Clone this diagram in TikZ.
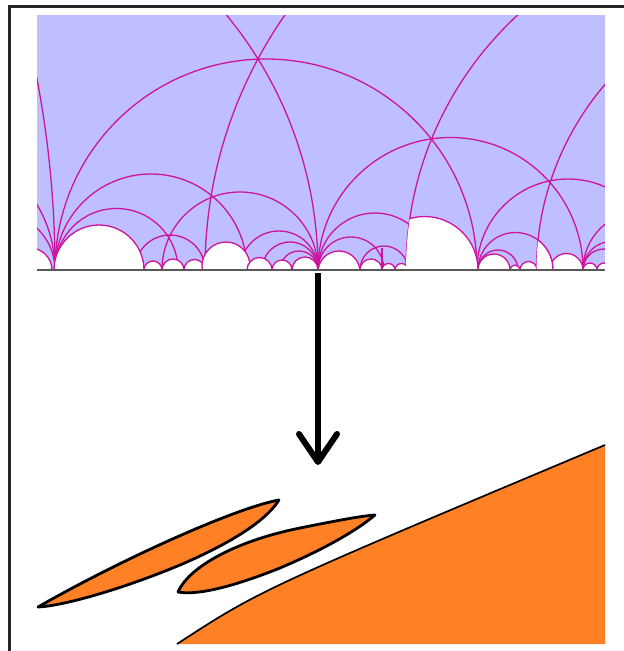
\documentclass[tikz,border=0pt]{standalone}
\usepackage{tikz}

\definecolor{halfplane}{RGB}{191,191,255}
\definecolor{geodesic}{RGB}{204,20,158}
\definecolor{blobfill}{RGB}{255,128,37}

\begin{document}
\begin{tikzpicture}[x=1pt, y=-1pt,
  geo/.style={draw=geodesic, line width=1.3pt},
  bump/.style={fill=white, draw=geodesic, line width=1.3pt},
  blob/.style={fill=blobfill, draw=black, line width=2.8pt, line join=round}]
  \useasboundingbox (0,0) rectangle (624,651);

  % Frame
  \draw[line width=2.8pt, black!85, line join=miter] (624,6.5) -- (9.6,6.5) -- (9.6,651);

  % Upper half plane
  \fill[halfplane] (37,15) rectangle (605,270);
  \begin{scope}
    \clip (37,15) rectangle (605,270);
    % Geodesics (semicircles on the boundary line)
    \foreach \c/\r in {-957/1012, -83/401, 651.5/446.5, 266/211, 450.5/132.5,
                       753/347, 822/285.5, 568/91, 151/96, 116.5/61.5, 240/78,
                       -2.5/57.5, -72.5/127.5, 170/35, 279/39, 290/28, 299/19,
                       375/57, 351/33, 384/24, 515.5/37.5, 498/20,
                       611.5/28.5, 641.5/58.5, 604/21}
      \draw[geo] (\c,270) circle[radius=\r];
    \draw[geo] (382,248) -- (382,270);
    % Bumps along the boundary
    \foreach \c/\h/\r in {30/270/22, 99/270/45, 153/270/9, 173/270/11,
                          194.5/270/10.5, 226/266/24, 259.5/270/12.5, 282/270/10,
                          305/270/13, 339/272/21, 371/270/11, 388.5/270/6.5,
                          401.5/270/6.5, 494/270/16, 515/270/5, 528.5/270/8.5,
                          566.5/270/16.5, 590/270/7, 604/270/7}
      \draw[bump] (\c,\h) circle[radius=\r];
    \begin{scope}
      \clip (753,270) circle[radius=347];
      \draw[bump] (424.5,270) circle[radius=53.5];
    \end{scope}
    \begin{scope}
      \clip (822,270) circle[radius=285.5];
      \draw[bump] (515.5,270) circle[radius=37.5];
    \end{scope}
  \end{scope}
  \draw[line width=1.5pt, black!65] (37,270) -- (605,270);

  % Map down
  \coordinate (cusp) at (318,273);
  \coordinate (tip) at (318,462);
  \draw[line width=6pt] (cusp) -- (tip);
  \draw[line width=6pt, line cap=round, line join=round] (tip) ++(-19,-28) -- (tip) -- ++(19,-28);

  % Image pieces
  \fill[blobfill] (177,644) .. controls (260,590) .. (605,445) |- cycle;
  \draw[line width=1.7pt] (177,644) .. controls (260,590) .. (605,445);
  % left leaf
  \draw[blob] (38,607) .. controls (120,560) and (235,508) .. (279,500)
    .. controls (264,524) and (222,547) .. (180,565)
    .. controls (120,590) and (62,606) .. cycle;
  % middle leaf
  \draw[blob] (178,592) .. controls (190,565) and (240,540) .. (300,528)
    .. controls (330,522) and (360,516) .. (375,515)
    .. controls (355,532) and (320,551) .. (280,568)
    .. controls (240,584) and (200,596) .. cycle;
\end{tikzpicture}
\end{document}
